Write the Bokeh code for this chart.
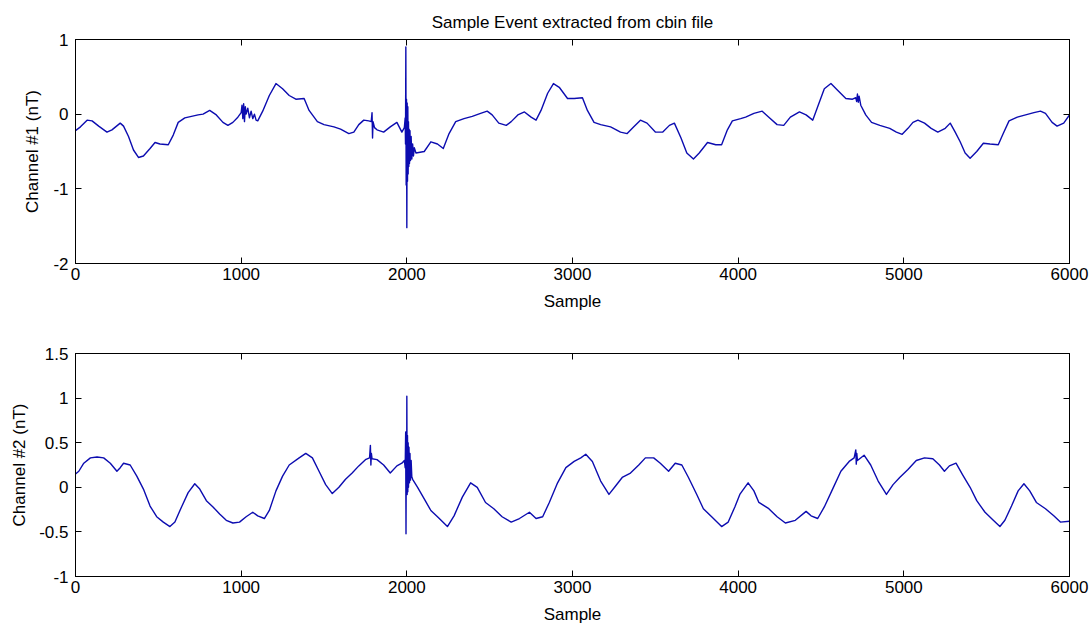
from bokeh.plotting import figure
from bokeh.layouts import column
from bokeh.models import Range1d, LinearAxis, FixedTicker, NumeralTickFormatter, CustomLabelingPolicy
from bokeh.embed import file_html
from bokeh.resources import INLINE

title_text = "Sample Event extracted from cbin file"
x_label = "Sample"
ch1_label = "Channel #1 (nT)"
ch2_label = "Channel #2 (nT)"
x_ticks = [0, 1000, 2000, 3000, 4000, 5000, 6000]
ch1_ticks = [-2, -1, 0, 1]
ch2_ticks = [-1, -0.5, 0, 0.5, 1, 1.5]

ch1_samples = [0, 30, 70, 100, 140, 190, 220, 270, 290, 320, 350, 380, 410, 450, 480, 510, 560, 590, 620, 660,
               700, 740, 770, 810, 850, 890, 920, 950, 980, 1000, 1005, 1010, 1015, 1020, 1025, 1030, 1040, 1050,
               1060, 1070, 1080, 1090, 1100, 1130, 1170, 1210, 1250, 1290, 1330, 1380, 1410, 1460, 1500, 1560,
               1600, 1650, 1680, 1710, 1740, 1770, 1785, 1790, 1793, 1796, 1805, 1820, 1860, 1900, 1940, 1970,
               1985, 1990, 1992, 1994, 1996, 1998, 2000, 2002, 2004, 2006, 2008, 2010, 2012, 2014, 2016, 2019,
               2022, 2026, 2030, 2035, 2040, 2045, 2055, 2105, 2145, 2185, 2220, 2255, 2295, 2345, 2395, 2445,
               2485, 2515, 2555, 2600, 2630, 2670, 2710, 2750, 2780, 2810, 2850, 2885, 2920, 2970, 3010, 3060,
               3090, 3130, 3170, 3230, 3290, 3330, 3370, 3410, 3450, 3500, 3545, 3585, 3615, 3655, 3690, 3730,
               3765, 3815, 3865, 3900, 3935, 3965, 4015, 4045, 4095, 4145, 4185, 4235, 4275, 4315, 4370, 4410,
               4450, 4480, 4520, 4560, 4600, 4650, 4690, 4710, 4715, 4720, 4725, 4730, 4740, 4770, 4805, 4855,
               4915, 4955, 4990, 5025, 5055, 5085, 5125, 5165, 5205, 5250, 5280, 5310, 5340, 5370, 5400, 5440,
               5480, 5520, 5570, 5600, 5635, 5685, 5735, 5785, 5825, 5855, 5895, 5925, 5965, 6000]
ch1_values = [-0.22, -0.17, -0.08, -0.09, -0.16, -0.24, -0.21, -0.12, -0.16, -0.30, -0.48, -0.58, -0.56, -0.46,
              -0.38, -0.40, -0.41, -0.28, -0.11, -0.05, -0.03, -0.01, 0.0, 0.05, -0.01, -0.11, -0.15, -0.11, -0.04,
              0.02, 0.12, -0.06, 0.14, -0.10, 0.10, 0.0, 0.08, -0.05, 0.04, -0.06, 0.0, -0.08, -0.09, 0.04, 0.25,
              0.41, 0.34, 0.25, 0.20, 0.21, 0.05, -0.10, -0.14, -0.17, -0.20, -0.26, -0.24, -0.14, -0.08, -0.09,
              -0.10, 0.02, -0.32, -0.10, -0.18, -0.21, -0.24, -0.17, -0.11, -0.24,
              -0.18, -0.05, -0.40, 0.90, -0.95, 0.20, -1.52, 0.15, -0.90, 0.10, -0.80, -0.10, -0.70, -0.20, -0.66,
              -0.22, -0.62, -0.30, -0.60, -0.40, -0.56, -0.45, -0.52, -0.50, -0.37, -0.40, -0.46, -0.26, -0.10,
              -0.06, -0.03, 0.01, 0.04, -0.01, -0.12, -0.15, -0.10, -0.01, 0.03, -0.04, -0.08, 0.05, 0.28, 0.41,
              0.36, 0.21, 0.21, 0.22, 0.05, -0.11, -0.14, -0.17, -0.24, -0.26, -0.17, -0.08, -0.12, -0.24, -0.24,
              -0.15, -0.12, -0.32, -0.52, -0.60, -0.52, -0.38, -0.41, -0.41, -0.21, -0.09, -0.06, -0.04, 0.01,
              0.04, -0.04, -0.14, -0.15, -0.04, 0.03, -0.01, -0.08, 0.10, 0.34, 0.41, 0.32, 0.21, 0.20, 0.22,
              0.17, 0.27, 0.16, 0.24, 0.12, -0.01, -0.11, -0.15, -0.19, -0.24, -0.27, -0.19, -0.11, -0.08, -0.12,
              -0.19, -0.24, -0.19, -0.12, -0.24, -0.37, -0.52, -0.59, -0.50, -0.39, -0.40, -0.41, -0.26, -0.09,
              -0.04, -0.01, 0.02, 0.04, 0.01, -0.11, -0.16, -0.12, -0.01]

ch2_samples = [0, 20, 50, 90, 130, 170, 210, 250, 270, 290, 330, 370, 410, 450, 490, 530, 570, 600, 640, 680,
               720, 750, 790, 830, 870, 910, 950, 990, 1030, 1070, 1100, 1140, 1170, 1210, 1250, 1290, 1350, 1390,
               1430, 1470, 1510, 1550, 1590, 1630, 1670, 1710, 1750, 1775, 1780, 1783, 1786, 1790, 1820, 1860,
               1900, 1940, 1970, 1985, 1990, 1993, 1995, 1997, 1999, 2000, 2002, 2004, 2006, 2008, 2010, 2013,
               2016, 2019, 2022, 2026, 2030, 2035, 2065, 2105, 2145, 2185, 2245, 2285, 2335, 2385, 2425, 2475,
               2525, 2575, 2630, 2680, 2740, 2780, 2820, 2860, 2910, 2960, 3010, 3050, 3080, 3120, 3170, 3220,
               3260, 3300, 3350, 3400, 3440, 3490, 3530, 3580, 3620, 3660, 3700, 3750, 3790, 3840, 3900, 3940,
               3980, 4010, 4025, 4060, 4095, 4125, 4185, 4235, 4285, 4345, 4410, 4440, 4480, 4520, 4570, 4620,
               4670, 4700, 4710, 4713, 4716, 4720, 4760, 4800, 4845, 4895, 4935, 4975, 5025, 5075, 5125, 5175,
               5215, 5245, 5275, 5315, 5355, 5400, 5440, 5490, 5540, 5580, 5610, 5650, 5690, 5725, 5760, 5800,
               5855, 5905, 5945, 6000]
ch2_values = [0.15, 0.18, 0.27, 0.33, 0.34, 0.33, 0.27, 0.18, 0.22, 0.27, 0.25, 0.125, -0.02, -0.21, -0.33, -0.39,
              -0.44, -0.39, -0.22, -0.06, 0.04, -0.02, -0.15, -0.22, -0.30, -0.37, -0.40, -0.39, -0.33, -0.28,
              -0.32, -0.35, -0.26, -0.04, 0.125, 0.25, 0.33, 0.38, 0.33, 0.18, 0.03, -0.07, 0.0, 0.09, 0.16, 0.24,
              0.31, 0.33, 0.47, 0.25, 0.38, 0.32, 0.31, 0.25, 0.16, 0.24, 0.27, 0.30, 0.22, 0.62, -0.52, 0.55,
              -0.05, 1.02, -0.08, 0.58, -0.05, 0.50, 0.0, 0.45, 0.05, 0.38, 0.08, 0.30, 0.12, 0.09, 0.0, -0.13,
              -0.26, -0.33, -0.44, -0.32, -0.11, 0.05, 0.0, -0.17, -0.24, -0.33, -0.39, -0.35, -0.28, -0.35,
              -0.33, -0.17, 0.05, 0.22, 0.29, 0.33, 0.37, 0.29, 0.07, -0.08, 0.015, 0.11, 0.16, 0.25, 0.33, 0.33,
              0.27, 0.18, 0.27, 0.25, 0.11, -0.08, -0.24, -0.33, -0.44, -0.39, -0.22, -0.08, -0.04, 0.05, -0.04,
              -0.17, -0.24, -0.33, -0.40, -0.37, -0.27, -0.32, -0.35, -0.22, -0.02, 0.18, 0.29, 0.33, 0.42, 0.26,
              0.38, 0.30, 0.36, 0.25, 0.07, -0.08, 0.03, 0.11, 0.20, 0.30, 0.33, 0.32, 0.25, 0.18, 0.24, 0.27,
              0.14, 0.0, -0.15, -0.28, -0.37, -0.44, -0.37, -0.21, -0.04, 0.04, -0.04, -0.17, -0.24, -0.32, -0.39,
              -0.38]

FONT = "Liberation Sans"
FONT_SIZE = "17px"
LINE_COLOR = "#0c0cb0"


def style_axis(ax, show_labels):
    ax.major_tick_in = 6
    ax.major_tick_out = 0
    ax.minor_tick_in = 0
    ax.minor_tick_out = 0
    ax.axis_line_color = "black"
    ax.major_tick_line_color = "black"
    ax.major_label_text_font = FONT
    ax.major_label_text_color = "black"
    ax.axis_label_text_font = FONT
    ax.axis_label_text_font_size = FONT_SIZE
    ax.axis_label_text_font_style = "normal"
    ax.axis_label_text_color = "black"
    if show_labels:
        ax.major_label_text_font_size = FONT_SIZE
    else:
        # tick marks only: no label is drawn and no room is reserved for labels
        ax.major_label_policy = CustomLabelingPolicy(code="return new Set()")
        ax.major_label_text_font_size = "0px"
        ax.major_label_standoff = 0


def make_panel(xs, ys, y_lo, y_hi, y_ticks, y_label, height, top_border, bottom_border, ylab_standoff, title=None):
    p = figure(width=1090, height=height, output_backend="svg", toolbar_location=None,
               x_range=Range1d(0, 6000), y_range=Range1d(y_lo, y_hi),
               min_border_left=75, min_border_right=21, min_border_top=top_border,
               min_border_bottom=bottom_border, title=title)
    p.xgrid.visible = False
    p.ygrid.visible = False
    p.outline_line_color = "black"
    p.outline_line_alpha = 1
    p.background_fill_color = "white"
    p.border_fill_color = "white"
    if title is not None:
        p.title.align = "center"
        p.title.text_font = FONT
        p.title.text_font_size = FONT_SIZE
        p.title.text_font_style = "normal"
        p.title.text_color = "black"
        p.title.standoff = 16
    p.line(xs, ys, line_color=LINE_COLOR, line_width=1.4, line_join="round")

    xa = p.xaxis[0]
    xa.ticker = FixedTicker(ticks=x_ticks)
    xa.axis_label = x_label
    xa.major_label_standoff = 4
    xa.axis_label_standoff = 9
    style_axis(xa, True)

    ya = p.yaxis[0]
    ya.ticker = FixedTicker(ticks=y_ticks)
    ya.formatter = NumeralTickFormatter(format="0.[0]")
    ya.axis_label = y_label
    ya.major_label_standoff = 7
    ya.axis_label_standoff = ylab_standoff
    style_axis(ya, True)

    top_ax = LinearAxis(ticker=FixedTicker(ticks=x_ticks))
    style_axis(top_ax, False)
    p.add_layout(top_ax, "above")
    right_ax = LinearAxis(ticker=FixedTicker(ticks=y_ticks))
    style_axis(right_ax, False)
    p.add_layout(right_ax, "right")
    return p


p1 = make_panel(ch1_samples, ch1_values, -2, 1, ch1_ticks, ch1_label, 313, 39, 48, 8, title=title_text)
p2 = make_panel(ch2_samples, ch2_values, -1, 1.5, ch2_ticks, ch2_label, 313, 40, 47, 7)

layout = column(p1, p2, spacing=0)
open("out.html", "w").write(file_html(layout, INLINE))
